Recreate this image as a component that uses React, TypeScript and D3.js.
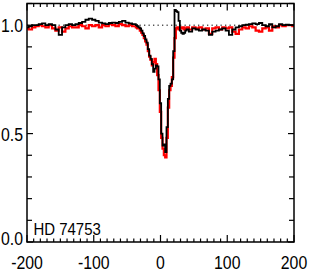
import React from "react";
import * as d3 from "d3";

// Black series (velocity km/s, normalized flux)
const blackVel = [
  -200, -195, -190, -185, -180, -175, -170, -165, -160, -155, -150, -145, -140, -135, -130, -125, -120,
  -115, -110, -105, -100, -95, -90, -85, -80, -75, -70, -65, -60, -55, -50, -45, -40,
  -38, -36, -34, -32, -30, -28, -26, -24, -22, -20, -18, -16, -14, -12, -10, -8, -6, -4, -2, 0,
  2, 4, 6, 8, 10, 12, 14, 16, 18, 20, 22, 24, 26, 28, 30, 32, 34, 36, 38,
  40, 45, 50, 55, 60, 65, 70, 75, 80, 85, 90, 95, 100, 105, 110, 115, 120, 125, 130, 135, 140,
  145, 150, 155, 160, 165, 170, 175, 180, 185, 190, 195, 200,
];
const blackFlux = [
  0.99, 0.995, 1.0, 1.0, 1.005, 1.008, 1.0, 1.005, 1.0, 0.98, 0.955, 0.99, 1.0, 1.005, 1.0, 1.005, 1.01,
  1.015, 1.025, 1.03, 1.025, 1.02, 1.012, 1.008, 1.005, 1.01, 1.012, 1.01, 1.015, 1.02, 1.012, 1.008, 1.005,
  1.005, 1.0, 0.995, 0.99, 0.985, 0.975, 0.962, 0.95, 0.935, 0.92, 0.89, 0.86, 0.845, 0.82, 0.785, 0.8, 0.815, 0.81, 0.75, 0.64,
  0.5, 0.445, 0.45, 0.415, 0.53, 0.66, 0.72, 0.73, 0.75, 0.88, 1.07, 1.065, 1.06, 1.02, 0.975, 0.965, 0.96, 0.965, 0.975,
  0.98, 0.97, 0.985, 0.98, 0.975, 0.98, 0.975, 0.955, 0.97, 0.975, 0.98, 0.985, 0.975, 0.955, 0.98, 0.99, 0.995, 1.0, 1.002, 1.005, 1.008,
  1.005, 1.01, 1.0, 0.995, 1.005, 0.99, 0.995, 1.005, 1.0, 1.002, 1.0, 1.0,
];

// Red series
const redVel = blackVel;
const redFlux = [
  0.985, 0.98, 0.99, 0.995, 1.0, 0.995, 0.99, 1.0, 0.985, 0.975, 0.99, 0.97, 0.985, 0.995, 0.99, 0.99, 1.0,
  0.995, 0.985, 1.0, 0.995, 1.0, 0.99, 1.0, 0.995, 1.005, 1.0, 0.995, 1.005, 1.0, 0.995, 1.0, 0.995,
  0.995, 0.99, 0.985, 0.985, 0.975, 0.965, 0.955, 0.94, 0.925, 0.91, 0.88, 0.855, 0.84, 0.815, 0.83, 0.845, 0.82, 0.77, 0.7, 0.6,
  0.48, 0.43, 0.4, 0.39, 0.48, 0.62, 0.7, 0.72, 0.76, 0.85, 0.94, 0.985, 0.99, 0.98, 0.99, 0.985, 0.99, 0.98, 0.985,
  0.99, 0.98, 0.99, 0.985, 0.99, 0.98, 0.985, 0.96, 0.985, 0.99, 0.98, 0.99, 0.985, 0.99, 0.97, 0.96, 0.98, 0.99, 0.985, 0.995, 0.99,
  0.975, 0.97, 0.985, 0.99, 0.975, 0.995, 0.99, 1.0, 0.995, 1.0, 1.0, 0.995,
];

const xTickLabels = [-200, -100, 0, 100, 200];
const yTickLabels = [0.0, 0.5, 1.0];
const starName = "HD 74753";

const W = 311;
const H = 273;
const L = 27;
const R = 294;
const T = 3.5;
const B = 242;

export default function App() {
  const x = d3.scaleLinear().domain([-200, 200]).range([L, R]);
  const y = d3.scaleLinear().domain([0, 1.1]).range([B, T]);

  const mk = (vel: number[], flux: number[]) =>
    d3
      .line<number>()
      .x((_, i) => x(vel[i]))
      .y((d) => y(d))
      .curve(d3.curveStep)(flux) || "";

  const xMinor = d3.range(-200, 201, 10);
  const yMinor = d3.range(0, 1.1001, 0.1);

  return (
    <div style={{ position: "fixed", left: 0, top: 0 }}>
      <svg width={W} height={H} style={{ display: "block", background: "#fff" }}>
        <defs>
          <clipPath id="plot">
            <rect x={L} y={T} width={R - L} height={B - T} />
          </clipPath>
        </defs>
        {/* dotted continuum */}
        <line
          x1={x(-200)}
          x2={x(200)}
          y1={y(1)}
          y2={y(1)}
          stroke="#000"
          strokeWidth={1}
          strokeDasharray="1.3,3.2"
        />
        <g clipPath="url(#plot)">
          <path d={mk(redVel, redFlux)} fill="none" stroke="#ff0000" strokeWidth={2.2} />
          <path d={mk(blackVel, blackFlux)} fill="none" stroke="#000" strokeWidth={1.8} />
        </g>
        {/* ticks */}
        <g stroke="#000" strokeWidth={1.2}>
          {xMinor.map((v) => {
            const major = v % 100 === 0;
            const len = major ? 7 : 3.5;
            return (
              <g key={"xt" + v}>
                <line x1={x(v)} x2={x(v)} y1={B} y2={B - len} />
                <line x1={x(v)} x2={x(v)} y1={T} y2={T + len} />
              </g>
            );
          })}
          {yMinor.map((v, i) => {
            const major = i % 5 === 0;
            const len = major ? 6 : 5;
            return (
              <g key={"yt" + i}>
                <line x1={L} x2={L + len} y1={y(v)} y2={y(v)} />
                <line x1={R} x2={R - len} y1={y(v)} y2={y(v)} />
              </g>
            );
          })}
        </g>
        <rect x={L} y={T} width={R - L} height={B - T} fill="none" stroke="#000" strokeWidth={1.5} />
        {/* labels */}
        <g fontFamily="'Liberation Sans', Arial, sans-serif" fontSize={18} fill="#000">
          {xTickLabels.map((v) => (
            <text
              key={"xl" + v}
              transform={`translate(${x(v)},269) scale(0.88,1)`}
              textAnchor="middle"
            >
              {v < 0 ? "-" + Math.abs(v) : String(v)}
            </text>
          ))}
          {yTickLabels.map((v) => (
            <text
              key={"yl" + v}
              transform={`translate(23,${Math.min(y(v), 238) + 7}) scale(0.88,1)`}
              textAnchor="end"
            >
              {v.toFixed(1)}
            </text>
          ))}
          <text transform="translate(33.5,234.5) scale(0.88,1)" fontSize={17}>
            {starName}
          </text>
        </g>
      </svg>
    </div>
  );
}
